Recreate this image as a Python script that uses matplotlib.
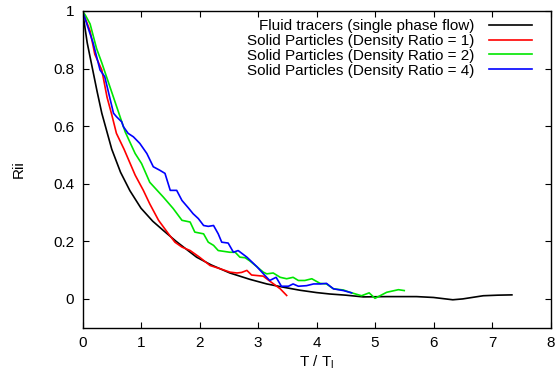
import matplotlib
matplotlib.use("Agg")
import matplotlib.pyplot as plt

plt.rcParams['font.family'] = ['Liberation Sans', 'DejaVu Sans']

# Fluid tracers (single phase flow)
fluid_x = [0, 0.08, 0.17, 0.25, 0.33, 0.5, 0.65, 0.81, 1.0, 1.2, 1.38, 1.6, 1.95, 2.2, 2.52, 2.86, 3.15, 3.45, 3.72, 4.0, 4.23, 4.5, 4.8, 5.2, 5.5, 5.71, 6.0, 6.33, 6.5, 6.85, 7.1, 7.34]
fluid_y = [1.0, 0.89, 0.80, 0.72, 0.645, 0.52, 0.44, 0.376, 0.315, 0.27, 0.238, 0.2, 0.145, 0.118, 0.09, 0.068, 0.052, 0.04, 0.03, 0.022, 0.017, 0.013, 0.007, 0.008, 0.008, 0.008, 0.005, -0.003, 0.0, 0.011, 0.013, 0.014]

# Solid particles, density ratio = 1
r1_x = [0, 0.13, 0.21, 0.33, 0.42, 0.5, 0.58, 0.71, 0.9, 1.04, 1.15, 1.3, 1.47, 1.58, 1.7, 1.84, 2.0, 2.18, 2.35, 2.52, 2.64, 2.72, 2.81, 2.89, 3.09, 3.2, 3.38, 3.49]
r1_y = [1.0, 0.93, 0.85, 0.795, 0.70, 0.64, 0.575, 0.52, 0.43, 0.377, 0.33, 0.273, 0.226, 0.197, 0.18, 0.168, 0.145, 0.116, 0.105, 0.093, 0.09, 0.092, 0.099, 0.083, 0.079, 0.062, 0.035, 0.012]

# Solid particles, density ratio = 2
r2_x = [0, 0.05, 0.13, 0.24, 0.33, 0.53, 0.73, 0.9, 1.01, 1.15, 1.38, 1.55, 1.7, 1.84, 1.92, 2.07, 2.15, 2.24, 2.32, 2.52, 2.61, 2.69, 2.78, 2.86, 2.98, 3.09, 3.15, 3.26, 3.38, 3.49, 3.6, 3.69, 3.8, 3.92, 4.06, 4.17, 4.29, 4.46, 4.57, 4.77, 4.9, 5.0, 5.2, 5.4, 5.5]
r2_y = [1.0, 0.985, 0.955, 0.87, 0.82, 0.70, 0.58, 0.505, 0.47, 0.405, 0.354, 0.314, 0.273, 0.267, 0.232, 0.226, 0.197, 0.186, 0.168, 0.162, 0.162, 0.145, 0.143, 0.132, 0.112, 0.093, 0.087, 0.09, 0.075, 0.07, 0.075, 0.064, 0.064, 0.07, 0.054, 0.052, 0.035, 0.031, 0.023, 0.011, 0.021, 0.002, 0.023, 0.032, 0.029]

# Solid particles, density ratio = 4
r4_x = [0, 0.18, 0.3, 0.38, 0.53, 0.58, 0.67, 0.7, 0.78, 0.87, 0.98, 1.1, 1.21, 1.32, 1.41, 1.5, 1.61, 1.7, 1.81, 1.89, 1.98, 2.07, 2.15, 2.24, 2.32, 2.38, 2.49, 2.58, 2.66, 2.81, 2.98, 3.12, 3.2, 3.31, 3.4, 3.52, 3.6, 3.69, 3.83, 3.95, 4.06, 4.17, 4.29, 4.46, 4.6]
r4_y = [1.0, 0.89, 0.795, 0.772, 0.645, 0.633, 0.615, 0.598, 0.575, 0.563, 0.54, 0.505, 0.459, 0.447, 0.436, 0.377, 0.377, 0.342, 0.316, 0.296, 0.279, 0.255, 0.252, 0.255, 0.226, 0.197, 0.194, 0.162, 0.168, 0.145, 0.112, 0.081, 0.064, 0.075, 0.044, 0.044, 0.052, 0.044, 0.046, 0.052, 0.052, 0.054, 0.035, 0.029, 0.021]

labels = ["Fluid tracers (single phase flow)",
          "Solid Particles (Density Ratio = 1)",
          "Solid Particles (Density Ratio = 2)",
          "Solid Particles (Density Ratio = 4)"]
colors = ["#000000", "#ff0000", "#00e600", "#0000ff"]

x_ticks = [0, 1, 2, 3, 4, 5, 6, 7, 8]
y_ticks = [0, 0.2, 0.4, 0.6, 0.8, 1]
y_ticklabels = ["0", "0.2", "0.4", "0.6", "0.8", "1"]

FS = 11

fig = plt.figure(figsize=(5.55, 3.78), dpi=100)
ax = fig.add_axes([82.5/555, 1-327.7/378, 468/555, 316.7/378])

series = [(fluid_x, fluid_y), (r1_x, r1_y), (r2_x, r2_y), (r4_x, r4_y)]
for (xs, ys), lab, c in zip(series, labels, colors):
    ax.plot(xs, ys, color=c, lw=1.2, label=lab)

ax.set_xlim(0, 8)
ax.set_ylim(-0.1, 1)
ax.set_xticks(x_ticks)
ax.set_xticklabels([str(t) for t in x_ticks])
ax.set_yticks(y_ticks)
ax.set_yticklabels(y_ticklabels)
ax.tick_params(direction='in', top=True, right=True, length=4.5, width=0.8,
               labelsize=FS, pad=6)
for s in ax.spines.values():
    s.set_linewidth(1.0)

ax.set_xlabel("T / T$_\\mathregular{l}$", fontsize=FS, labelpad=2)
ax.set_ylabel("Rii", fontsize=FS, labelpad=20)

leg = ax.legend(loc='upper right', bbox_to_anchor=(0.9605, 0.974), frameon=False,
                markerfirst=False, fontsize=FS, handlelength=2.8,
                handletextpad=1.0, labelspacing=0.05, borderaxespad=0, borderpad=0)

fig.savefig("out.png", dpi=100)
